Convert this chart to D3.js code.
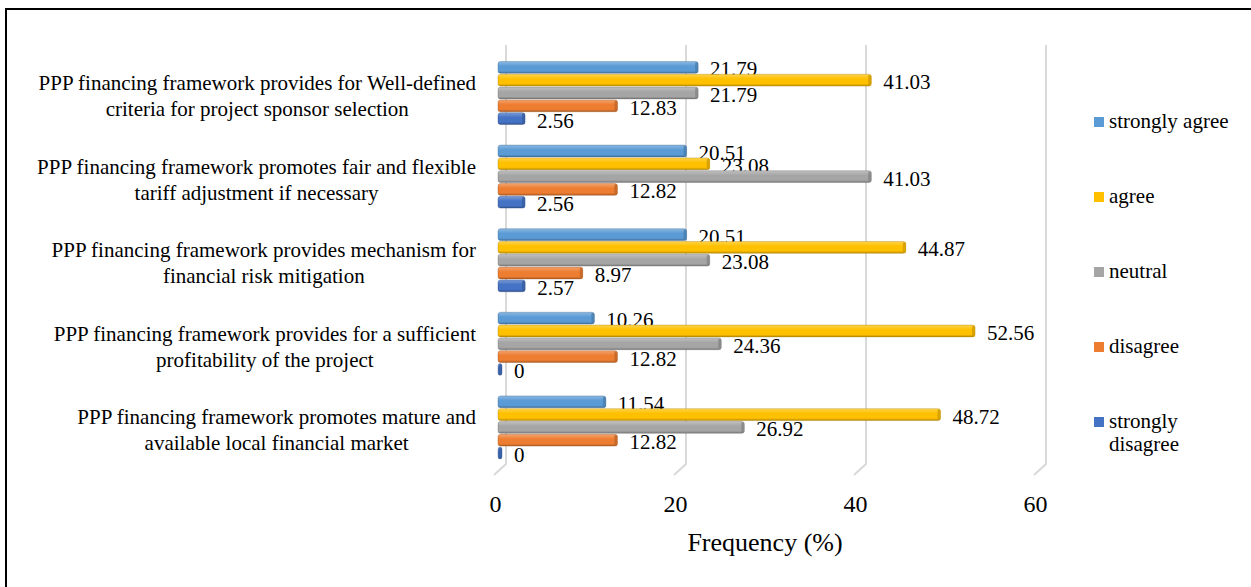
<!DOCTYPE html>
<html>
<head>
<meta charset="utf-8">
<script src="https://cdn.jsdelivr.net/npm/d3@7"></script>
<style>
  html, body { margin: 0; padding: 0; background: #fff; }
  svg { display: block; }
  svg text { font-family: "Liberation Serif", "Tinos", "Times New Roman", Times, serif; }
</style>
</head>
<body>
<svg id="chart" width="1251" height="587"></svg>
<script>
// ---- data ----
const categories = [
  ["PPP financing framework provides for Well-defined", "criteria for project sponsor selection"],
  ["PPP financing framework promotes fair and flexible", "tariff adjustment if necessary"],
  ["PPP financing framework provides mechanism for", "financial risk mitigation"],
  ["PPP financing framework provides for a sufficient", "profitability of the project"],
  ["PPP financing framework promotes mature and", "available local financial market"]
];
const seriesNames = ["strongly agree", "agree", "neutral", "disagree", "strongly disagree"];
const stronglyAgree    = [21.79, 20.51, 20.51, 10.26, 11.54];
const agree            = [41.03, 23.08, 44.87, 52.56, 48.72];
const neutral          = [21.79, 41.03, 23.08, 24.36, 26.92];
const disagree         = [12.83, 12.82, 8.97, 12.82, 12.82];
const stronglyDisagree = [2.56, 2.56, 2.57, 0, 0];
const xTicks = [0, 20, 40, 60];
const axisTitle = "Frequency (%)";
const colors = ["#5B9BD5", "#FFC000", "#A5A5A5", "#ED7D31", "#4472C4"];

const seriesValues = [stronglyAgree, agree, neutral, disagree, stronglyDisagree];
const catKeys = categories.map((c, i) => "c" + i);
const FONT = "'Liberation Serif', Tinos, 'Times New Roman', Times, serif";

const svg = d3.select("#chart");

// frame
svg.append("path")
  .attr("d", "M6,587 V9 H1251")
  .attr("fill", "none").attr("stroke", "#000").attr("stroke-width", 2);

// scales
const x = d3.scaleLinear().domain([0, 60]).range([502, 1042]);
const y0 = d3.scaleBand().domain(catKeys).range([51.2, 469.2]).paddingInner(0.234).paddingOuter(0.117);
const y1 = d3.scaleBand().domain(seriesNames).range([0, y0.bandwidth()]);

// gradients
const defs = svg.append("defs");
seriesNames.forEach((s, i) => {
  const c = d3.color(colors[i]);
  const g = defs.append("linearGradient").attr("id", "g" + i)
    .attr("x1", 0).attr("y1", 0).attr("x2", 0).attr("y2", 1);
  g.append("stop").attr("offset", "0%").attr("stop-color", d3.interpolateRgb(c, "#fff")(0.3));
  g.append("stop").attr("offset", "40%").attr("stop-color", c.formatHex());
  g.append("stop").attr("offset", "80%").attr("stop-color", c.formatHex());
  g.append("stop").attr("offset", "100%").attr("stop-color", c.darker(0.9).formatHex());
});

// gridlines (3D back wall + floor slant)
const grid = svg.append("g");
xTicks.forEach(t => {
  grid.append("path")
    .attr("d", `M${x(t) + 4},45 V464 L${x(t) - 8},475`)
    .attr("fill", "none").attr("stroke", "#d9d9d9").attr("stroke-width", 2);
});

// axis
const axis = svg.append("g")
  .attr("transform", "translate(-7,490)")
  .call(d3.axisBottom(x).tickValues(xTicks).tickSize(0).tickPadding(0));
axis.attr("font-family", FONT);
axis.select(".domain").remove();
axis.selectAll("text")
  .attr("font-family", FONT)
  .attr("font-size", 24).attr("fill", "#000").attr("dy", "0.9em");

svg.append("text")
  .attr("x", 765).attr("y", 551).attr("font-family", FONT)
  .attr("text-anchor", "middle").attr("font-size", 26).attr("fill", "#000")
  .text(axisTitle);

// bars
const groups = svg.append("g").selectAll("g").data(categories).join("g")
  .attr("transform", (d, i) => `translate(0,${y0(catKeys[i])})`);

groups.each(function(cat, ci) {
  const g = d3.select(this);
  seriesNames.forEach((s, si) => {
    const v = seriesValues[si][ci];
    const yy = y1(s) + 0.5;
    const h = y1.bandwidth() - 1;
    const x0 = x(0) - 4;
    const w = Math.max(x(v) - x0, 3);
    g.append("rect")
      .attr("x", x0).attr("y", yy).attr("width", w).attr("height", h)
      .attr("rx", 2.5)
      .attr("fill", `url(#g${si})`)
      .attr("stroke", d3.color(colors[si]).darker(1.2).formatHex())
      .attr("stroke-opacity", 0.45).attr("stroke-width", 0.8);
    // end cap
    g.append("rect")
      .attr("x", x0 + w - 3).attr("y", yy + 0.5).attr("width", 3).attr("height", h - 1)
      .attr("rx", 1.5)
      .attr("fill", d3.color(colors[si]).darker(0.6).formatHex())
      .attr("opacity", 0.8);
    g.append("text")
      .attr("x", x(v) + 12).attr("y", yy + h / 2 + 9)
      .attr("font-family", FONT)
      .attr("font-size", 21).attr("fill", "#000")
      .text(String(v));
  });
});

// category labels: block right-aligned, lines centered within block
const catLabels = svg.append("g");
categories.forEach((lines, i) => {
  const cy = y0(catKeys[i]) + y0.bandwidth() / 2;
  const t = catLabels.append("text").attr("font-size", 21).attr("fill", "#000")
    .attr("font-family", FONT)
    .attr("text-anchor", "middle");
  const spans = lines.map((ln, k) =>
    t.append("tspan").attr("y", cy - 3 + k * 26).text(ln));
  const maxW = d3.max(spans, sp => sp.node().getComputedTextLength());
  spans.forEach(sp => sp.attr("x", 476 - maxW / 2));
});

// legend
const legendY = [122, 197, 272, 347, 422];
const legend = svg.append("g");
seriesNames.forEach((s, i) => {
  legend.append("rect")
    .attr("x", 1094).attr("y", legendY[i] - 5).attr("width", 10).attr("height", 10)
    .attr("fill", colors[i]);
  const words = s === "strongly disagree" ? ["strongly", "disagree"] : [s];
  const t = legend.append("text").attr("font-size", 21).attr("fill", "#000")
    .attr("font-family", FONT);
  words.forEach((w, k) => t.append("tspan").attr("x", 1109).attr("y", legendY[i] + 6 + k * 23).text(w));
});
</script>
</body>
</html>
